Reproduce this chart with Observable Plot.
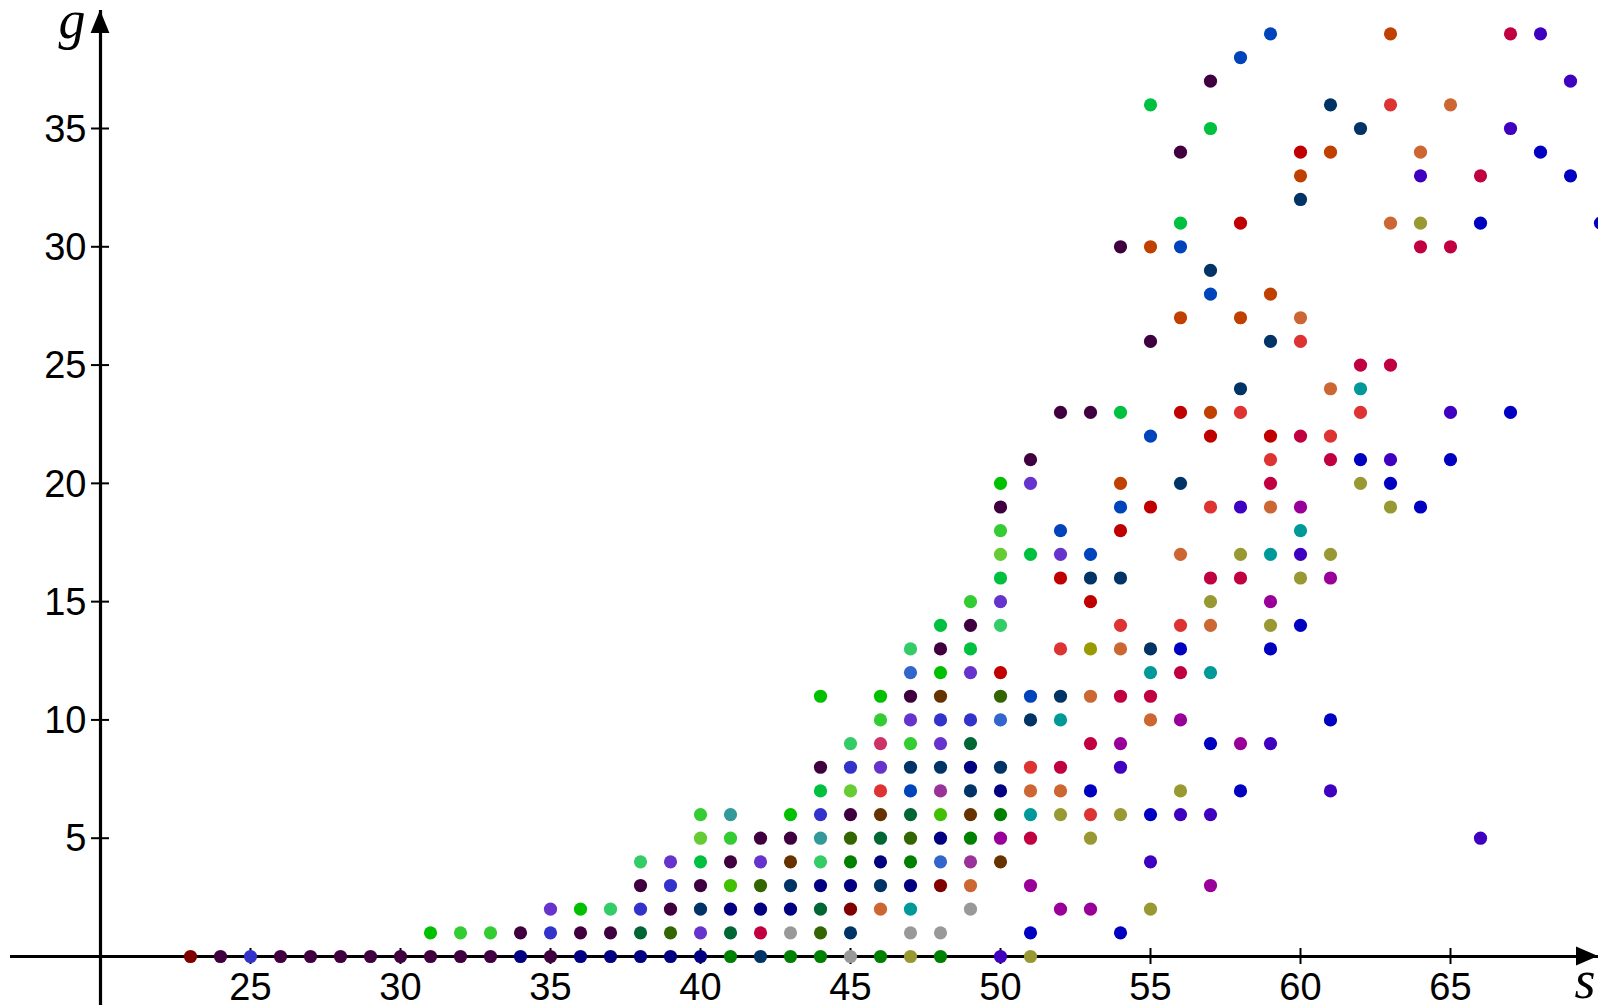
<!DOCTYPE html>
<html><head><meta charset="utf-8">
<script src="https://cdn.jsdelivr.net/npm/d3@7"></script>
<script src="https://cdn.jsdelivr.net/npm/@observablehq/plot@0.6"></script>
<style>html,body{margin:0;padding:0;background:#fff;overflow:hidden}svg{display:block}</style>
</head><body><div id="chart"></div>
<script>
// s values (columns) and, for each column, the points "g + group key"
const sValues = [23,24,25,26,27,28,29,30,31,32,33,34,35,36,37,38,39,40,41,42,43,44,45,46,47,48,49,50,51,52,53,54,55,56,57,58,59,60,61,62,63,64,65,66,67,68,69,70];
const columnPoints = [
  "0N", "0A", "0M", "0A", "0A", "0A", "0A", "0A",
  "1Q 0A", "1R 0A", "1R 0A", "1A 0B",
  "2J 1M 0A", "2Q 1A 0B", "2L 1A 0B",
  "4L 3A 2M 1H 0B",
  "4J 3M 2A 1I 0B",
  "6R 5W 4U 3A 2D 1J 0B",
  "6V 5R 4A 3S 2B 1H 0C",
  "5A 4J 3I 2B 1K 0D",
  "6Q 5A 4T 3D 2B 1E 0C",
  "11Q 8A 7U 6M 5V 4L 3B 2H 1I 0C",
  "9L 8M 7W 6A 5I 4C 3B 2N 1D 0E",
  "11Q 10R 9h 8J 7X 6T 5H 4B 3D 2O 0C",
  "13L 12a 11A 10J 9R 8D 7Y 6H 5I 4C 3B 2P 1E 0F",
  "14U 13A 12Q 11T 10M 9J 8D 7Z 6S 5B 4a 3N 1E 0C",
  "15R 14A 13U 12J 10M 9H 8B 7D 6T 5C 4Z 3O 2E",
  "20Q 19A 18R 17W 16U 15J 14L 12b 11I 10a 8D 7B 6C 5c 4T 0G",
  "21A 20J 17U 11Y 10D 8X 7O 6P 5K 3c 1d 0F",
  "23A 18Y 17J 16b 13X 11D 10P 8K 7O 6F 2c",
  "23A 17Y 16D 15b 13f 11O 9K 7d 6X 5F 2c",
  "30A 23U 20e 19Y 18b 16D 14X 13O 11K 9c 8G 6F 1d",
  "36U 30e 26A 22Y 19b 13D 12P 11K 10O 6d 4G 2F",
  "34A 31U 30Y 27e 23b 20D 17O 14X 13d 12K 10c 7F 6G",
  "37A 35U 29D 28Y 23e 22b 19X 16K 15F 14O 12P 9d 6G 3c",
  "38Y 31b 27e 24D 23X 19G 17F 16K 9c 7d",
  "39Y 28e 26D 22b 21X 20K 19O 17P 15c 14F 13d 9G",
  "34b 33e 32D 27O 26X 22K 19c 18P 17G 16F 14d",
  "36D 34e 24O 22X 21K 17F 16c 10d 7G",
  "35D 25K 24P 23X 21d 20F",
  "39e 36X 31O 25K 21G 20d 19F",
  "34O 33G 31F 30K 19d",
  "36O 30K 23G 21d",
  "33K 31d 5G",
  "39K 35G 23d",
  "39G 34d",
  "37G 33d",
  "31d"
];
const groupKeys = ["A","B","C","D","E","F","G","H","I","J","K","L","M","N","O","P","Q","R","S","T","U","V","W","X","Y","Z","a","b","c","d","e","f","h"];
const groupColors = ["#400040","#000080","#008000","#003366","#999999","#999933","#4000c0","#006633","#336600","#6633cc","#c00040","#33cc66","#3333cc","#800000","#cc6633","#009999","#00c000","#33cc33","#40c000","#663300","#00c040","#339999","#66cc33","#dd3333","#0044bb","#993399","#3366cc","#c00000","#990099","#0000c0","#c04000","#999900","#cc3366"];
const xTicks = [25,30,35,40,45,50,55,60,65];
const yTicks = [5,10,15,20,25,30,35];

const points = [];
sValues.forEach((s, i) => {
  columnPoints[i].split(" ").forEach(tok => {
    const m = tok.match(/^(\d+)([A-Za-z])$/);
    points.push({s, g: +m[1], group: m[2]});
  });
});

const W = 1598, H = 1005;
const sans = "'Liberation Sans', Arial, Helvetica, sans-serif";
const serif = "'Liberation Serif', 'Times New Roman', serif";

const chart = Plot.plot({
  width: W, height: H,
  marginTop: 10, marginLeft: 10, marginRight: 0, marginBottom: 0,
  style: {background: "#fff", overflow: "visible"},
  x: {type: "linear", domain: [20, 65], range: [100, 1450], axis: null},
  y: {type: "linear", domain: [0, 35], range: [956, 128], axis: null},
  color: {type: "ordinal", domain: groupKeys, range: groupColors},
  marks: [
    Plot.ruleX([20], {stroke: "#000", strokeWidth: 3.2}),
    Plot.ruleY([0], {stroke: "#000", strokeWidth: 3.2}),
    Plot.ruleX(xTicks, {x: d => d, y1: 0, y2: 0, insetTop: -8, insetBottom: -8, stroke: "#000", strokeWidth: 2}),
    Plot.ruleY(yTicks, {y: d => d, x1: 20, x2: 20, insetLeft: -9, insetRight: -9, stroke: "#000", strokeWidth: 2}),
    Plot.text(xTicks, {x: d => d, y: 0, dy: 31, text: d => String(d), fontSize: 38, fontFamily: sans, fill: "#000"}),
    Plot.text(yTicks, {x: 20, y: d => d, dx: -14, dy: 1, textAnchor: "end", text: d => String(d), fontSize: 38, fontFamily: sans, fill: "#000"}),
    Plot.text(["g"], {frameAnchor: "top-left", dx: 48, dy: 27, lineAnchor: "bottom", textAnchor: "start", text: d => d, fontSize: 54, fontStyle: "italic", fontFamily: serif, fill: "#000"}),
    Plot.text(["s"], {frameAnchor: "bottom-right", dx: -24, dy: -8, lineAnchor: "bottom", textAnchor: "start", text: d => d, fontSize: 54, fontStyle: "italic", fontFamily: serif, fill: "#000"}),
    Plot.dot(points, {x: "s", y: "g", fill: "group", r: 6.6, stroke: null})
  ]
});

// filled arrowheads at the ends of the two axes
const svg = d3.select(chart);
const x0 = chart.scale("x").apply(20);
const y0 = chart.scale("y").apply(0);
svg.append("path").attr("fill", "#000")
  .attr("d", `M${W},${y0} L${W - 22},${y0 - 9.5} L${W - 22},${y0 + 9.5} Z`);
svg.append("path").attr("fill", "#000")
  .attr("d", `M${x0},10 L${x0 - 9.4},33 L${x0 + 9.4},33 Z`);

document.getElementById("chart").appendChild(chart);
</script>
</body></html>
